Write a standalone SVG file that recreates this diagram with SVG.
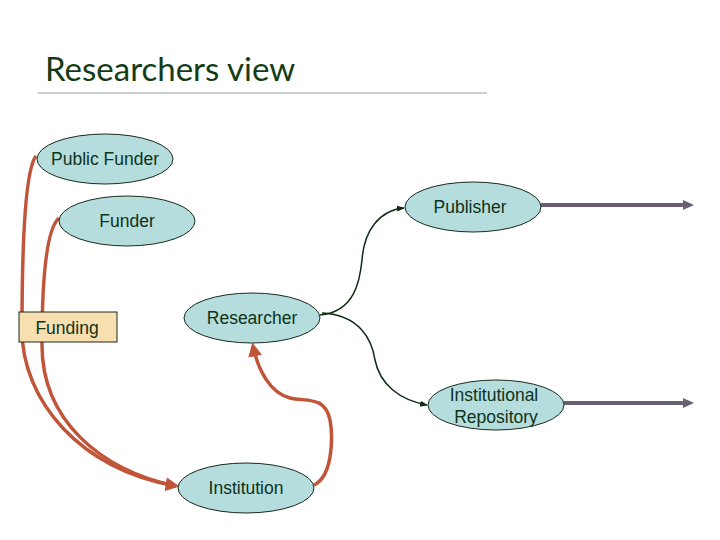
<svg xmlns="http://www.w3.org/2000/svg" width="720" height="540" viewBox="0 0 720 540">
<style>
.n{fill:#b5dddd;stroke:#1a2a1a;stroke-width:1}
.t{font-family:"Liberation Sans",Arial,sans-serif;font-size:17.5px;fill:#0d3318;text-anchor:middle}
.o{fill:none;stroke:#c0553a;stroke-width:3.5}
.g{fill:none;stroke:#0f2a12;stroke-width:1.5}
.p{fill:none;stroke:#6a6075;stroke-width:4}
</style>
<defs>
<marker id="ao" markerWidth="4" markerHeight="4" refX="3" refY="2" orient="auto" markerUnits="strokeWidth"><path d="M0,0 L4,2 L0,4 z" fill="#c0553a"/></marker>
<marker id="ag" markerWidth="8" markerHeight="8" refX="7" refY="4" orient="auto" markerUnits="userSpaceOnUse"><path d="M0,1 L8,4 L0,7 z" fill="#0f2a12"/></marker>
</defs>
<rect width="720" height="540" fill="#fff"/>
<text x="45" y="81" font-family="Lato,'DejaVu Sans',sans-serif" font-size="33" fill="#143c14">Researchers view</text>
<line x1="38" y1="93" x2="487" y2="93" stroke="#9aa0a0" stroke-width="1.2"/>
<g id="connectors">
<path class="o" d="M36,156 C25,170 22,250 22,330 C22,400 80,470 176,486" marker-end="url(#ao)"/>
<path class="o" d="M59,218 C45,230 42,290 42,345 C42,420 100,470 176,486"/>
<path class="o" d="M314,485 C335,475 332,430 330,420 C325,395 305,402 290,398 C270,393 258,370 253,346" marker-end="url(#ao)"/>
<path class="g" d="M320,315 C355,312 360,280 362,260 C364,230 380,210 404,208" marker-end="url(#ag)"/>
<path class="g" d="M322,313 C360,315 372,340 375,360 C380,385 400,400 427,405" marker-end="url(#ag)"/>
<path class="p" d="M541,205 L684,205"/>
<path class="p" d="M564,403 L684,403"/>
<path d="M683,200 L694,205 L683,210 z" fill="#6a6075"/>
<path d="M683,398 L694,403 L683,408 z" fill="#6a6075"/>
</g>
<g id="public-funder"><ellipse class="n" cx="105" cy="159" rx="68" ry="25"/><text class="t" x="105" y="165">Public Funder</text></g>
<g id="funder"><ellipse class="n" cx="127" cy="221" rx="68" ry="25"/><text class="t" x="127" y="227">Funder</text></g>
<g id="funding"><rect x="19" y="312" width="98" height="30" fill="#f8dfb0" stroke="#1a2a1a" stroke-width="1"/><text class="t" x="67" y="334">Funding</text></g>
<g id="researcher"><ellipse class="n" cx="252" cy="318" rx="68" ry="25"/><text class="t" x="252" y="324">Researcher</text></g>
<g id="publisher"><ellipse class="n" cx="473" cy="207" rx="68" ry="25"/><text class="t" x="470" y="213">Publisher</text></g>
<g id="institutional-repository"><ellipse class="n" cx="496" cy="405" rx="68" ry="25"/><text class="t" x="494" y="401">Institutional</text><text class="t" x="496" y="423">Repository</text></g>
<g id="institution"><ellipse class="n" cx="246" cy="488" rx="68" ry="25"/><text class="t" x="246" y="494">Institution</text></g>
</svg>
